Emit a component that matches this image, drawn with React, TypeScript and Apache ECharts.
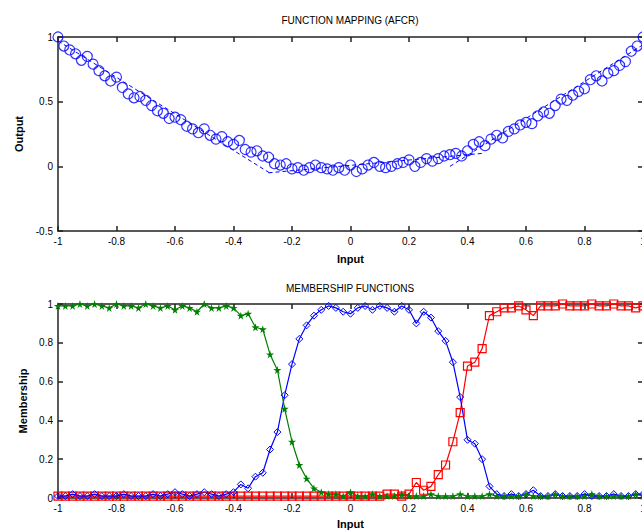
import React, { useEffect, useRef } from "react";
import * as echarts from "echarts";

// ---------- Top plot: function mapping (AFCR) ----------
const mapX = [
  -1.0, -0.98, -0.96, -0.94, -0.92, -0.9, -0.88, -0.86, -0.84, -0.82, -0.8, -0.78, -0.76, -0.74, -0.72, -0.7, -0.68,
  -0.66, -0.64, -0.62, -0.6, -0.58, -0.56, -0.54, -0.52, -0.5, -0.48, -0.46, -0.44, -0.42, -0.4, -0.38, -0.36, -0.34,
  -0.32, -0.3, -0.28, -0.26, -0.24, -0.22, -0.2, -0.18, -0.16, -0.14, -0.12, -0.1, -0.08, -0.06, -0.04, -0.02, 0.0,
  0.02, 0.04, 0.06, 0.08, 0.1, 0.12, 0.14, 0.16, 0.18, 0.2, 0.22, 0.24, 0.26, 0.28, 0.3, 0.32, 0.34, 0.36, 0.38, 0.4,
  0.42, 0.44, 0.46, 0.48, 0.5, 0.52, 0.54, 0.56, 0.58, 0.6, 0.62, 0.64, 0.66, 0.68, 0.7, 0.72, 0.74, 0.76, 0.78, 0.8,
  0.82, 0.84, 0.86, 0.88, 0.9, 0.92, 0.94, 0.96, 0.98, 1.0,
];
const mapY = [
  1.0, 0.93, 0.9, 0.87, 0.82, 0.85, 0.79, 0.74, 0.7, 0.66, 0.69, 0.61, 0.56, 0.53, 0.54, 0.51, 0.47,
  0.43, 0.41, 0.37, 0.38, 0.36, 0.31, 0.29, 0.26, 0.29, 0.24, 0.21, 0.23, 0.19, 0.17, 0.2, 0.13, 0.11,
  0.12, 0.08, 0.07, 0.02, 0.01, 0.02, -0.02, -0.01, -0.03, -0.01, 0.01, -0.01, -0.02, -0.03, -0.01, -0.03, 0.01,
  -0.04, -0.02, 0.01, 0.03, 0.0, -0.01, 0.0, 0.02, 0.03, 0.05, 0.0, 0.03, 0.06, 0.04, 0.06, 0.08, 0.09, 0.1, 0.08, 0.12,
  0.17, 0.19, 0.16, 0.21, 0.24, 0.22, 0.27, 0.29, 0.32, 0.34, 0.33, 0.39, 0.42, 0.41, 0.47, 0.52, 0.51, 0.55, 0.58, 0.6,
  0.67, 0.7, 0.66, 0.72, 0.74, 0.78, 0.81, 0.89, 0.93, 1.0,
];
// AFCR rule lines (piecewise model)
const ruleLine1 = [[-1.0, 0.97], [-0.27, -0.06]];
const ruleLine2 = [[-0.28, -0.05], [0.45, 0.1]];
const ruleLine3 = [[0.34, 0.0], [1.0, 0.94]];

// ---------- Bottom plot: membership functions ----------
const memX = [
  -1.0, -0.975, -0.95, -0.925, -0.9, -0.875, -0.85, -0.825, -0.8, -0.775, -0.75, -0.725, -0.7, -0.675, -0.65, -0.625,
  -0.6, -0.575, -0.55, -0.525, -0.5, -0.475, -0.45, -0.425, -0.4, -0.375, -0.35, -0.325, -0.3, -0.275, -0.25, -0.225,
  -0.2, -0.175, -0.15, -0.125, -0.1, -0.075, -0.05, -0.025, 0.0, 0.025, 0.05, 0.075, 0.1, 0.125, 0.15, 0.175, 0.2,
  0.225, 0.25, 0.275, 0.3, 0.325, 0.35, 0.375, 0.4, 0.425, 0.45, 0.475, 0.5, 0.525, 0.55, 0.575, 0.6, 0.625, 0.65,
  0.675, 0.7, 0.725, 0.75, 0.775, 0.8, 0.825, 0.85, 0.875, 0.9, 0.925, 0.95, 0.975, 1.0,
];
const lowMF = [
  0.99, 0.99, 0.99, 1.0, 0.99, 1.0, 0.99, 0.98, 1.0, 0.99, 0.99, 0.98, 1.0, 0.99, 0.98, 0.99,
  0.97, 0.99, 0.98, 0.96, 1.0, 0.98, 0.98, 0.99, 0.98, 0.94, 0.95, 0.88, 0.87, 0.74, 0.66, 0.46,
  0.29, 0.17, 0.1, 0.05, 0.03, 0.02, 0.02, 0.01, 0.03, 0.01, 0.01, 0.02, 0.01, 0.01, 0.01, 0.02, 0.01,
  0.01, 0.01, 0.02, 0.01, 0.01, 0.01, 0.02, 0.01, 0.01, 0.01, 0.02, 0.01, 0.01, 0.01, 0.01, 0.02, 0.01, 0.01,
  0.01, 0.02, 0.01, 0.01, 0.01, 0.01, 0.02, 0.01, 0.01, 0.01, 0.01, 0.01, 0.02, 0.01,
];
const midMF = [
  0.01, 0.01, 0.02, 0.01, 0.01, 0.02, 0.01, 0.01, 0.01, 0.02, 0.01, 0.01, 0.01, 0.02, 0.01, 0.02,
  0.03, 0.02, 0.01, 0.02, 0.03, 0.02, 0.01, 0.02, 0.03, 0.07, 0.05, 0.11, 0.13, 0.25, 0.34, 0.53,
  0.69, 0.82, 0.89, 0.94, 0.97, 0.99, 0.98, 0.96, 0.95, 0.98, 0.99, 0.97, 0.99, 0.98, 0.96, 0.99, 0.97,
  0.9, 0.96, 0.93, 0.86, 0.81, 0.7, 0.52, 0.3, 0.28, 0.2, 0.06, 0.02, 0.01, 0.02, 0.01, 0.02, 0.04, 0.01,
  0.01, 0.02, 0.01, 0.01, 0.01, 0.02, 0.01, 0.01, 0.01, 0.02, 0.01, 0.01, 0.02, 0.02,
];
const highMF = [
  0.01, 0.01, 0.01, 0.01, 0.01, 0.01, 0.01, 0.01, 0.01, 0.01, 0.01, 0.01, 0.01, 0.01, 0.01, 0.01,
  0.01, 0.01, 0.01, 0.01, 0.01, 0.01, 0.01, 0.01, 0.01, 0.01, 0.01, 0.01, 0.01, 0.01, 0.01, 0.01,
  0.01, 0.01, 0.01, 0.01, 0.01, 0.01, 0.01, 0.01, 0.01, 0.01, 0.01, 0.01, 0.01, 0.02, 0.02, 0.01, 0.02,
  0.08, 0.04, 0.06, 0.12, 0.17, 0.29, 0.44, 0.68, 0.7, 0.77, 0.94, 0.96, 0.98, 0.98, 0.99, 0.97, 0.94, 0.99,
  0.99, 0.99, 1.0, 0.99, 0.99, 0.99, 1.0, 0.99, 0.99, 1.0, 0.99, 0.99, 0.98, 0.99,
];

const xTicks = { min: -1, max: 1, interval: 0.2 };
const topYTicks = { min: -0.5, max: 1, interval: 0.5 };
const botYTicks = { min: 0, max: 1, interval: 0.2 };

const zip = (xs: number[], ys: number[]) => xs.map((x, i) => [x, ys[i]]);

const FONT = "Liberation Sans, Arial, sans-serif";
const AXIS = "#222";
const BLUE = "#0000ff";
const GREEN = "#008000";
const RED = "#ff0000";
const STAR =
  "path://M50,0 L61,35 L98,35 L68,57 L79,91 L50,70 L21,91 L32,57 L2,35 L39,35 Z";

function mainAxis(extra: any) {
  return {
    type: "value",
    axisLine: { show: true, onZero: false, lineStyle: { color: AXIS, width: 1.5 } },
    axisTick: { show: true, inside: true, length: 5, lineStyle: { color: AXIS, width: 1.5 } },
    axisLabel: { color: "#000", fontSize: 10, fontFamily: FONT, margin: 5 },
    splitLine: { show: false },
    nameTextStyle: { color: "#000", fontSize: 11, fontWeight: "bold", fontFamily: FONT },
    ...extra,
  };
}
function boxAxis(extra: any) {
  return {
    type: "value",
    axisLine: { show: true, onZero: false, lineStyle: { color: AXIS, width: 1.5 } },
    axisTick: { show: true, inside: true, length: 5, lineStyle: { color: AXIS, width: 1.5 } },
    axisLabel: { show: false },
    splitLine: { show: false },
    ...extra,
  };
}

export default function App() {
  const ref = useRef<HTMLDivElement>(null);
  useEffect(() => {
    if (!ref.current) return;
    const chart = echarts.init(ref.current, undefined, { renderer: "svg" });
    const dashed = { color: BLUE, width: 1, type: [4, 3] as any };
    chart.setOption({
      animation: false,
      backgroundColor: "#fff",
      grid: [
        { left: 58, top: 37, width: 585, height: 194, outerBoundsMode: "none", containLabel: false },
        { left: 58, top: 304, width: 585, height: 194, outerBoundsMode: "none", containLabel: false },
      ],
      xAxis: [
        mainAxis({ gridIndex: 0, ...xTicks, name: "Input", nameLocation: "middle", nameGap: 22 }),
        mainAxis({ gridIndex: 1, ...xTicks, name: "Input", nameLocation: "middle", nameGap: 20 }),
        boxAxis({ gridIndex: 0, position: "top", ...xTicks }),
        boxAxis({ gridIndex: 1, position: "top", ...xTicks }),
      ],
      yAxis: [
        mainAxis({ gridIndex: 0, ...topYTicks, name: "Output", nameLocation: "middle", nameGap: 32 }),
        mainAxis({ gridIndex: 1, ...botYTicks, name: "Membership", nameLocation: "middle", nameGap: 30 }),
        boxAxis({ gridIndex: 0, position: "right", ...topYTicks }),
        boxAxis({ gridIndex: 1, position: "right", ...botYTicks }),
      ],
      graphic: [
        {
          type: "text",
          x: 350,
          y: 20,
          style: {
            text: "FUNCTION MAPPING (AFCR)",
            align: "center",
            verticalAlign: "middle",
            fill: "#000",
            font: `10px ${FONT}`,
          },
        },
        {
          type: "text",
          x: 350,
          y: 288,
          style: {
            text: "MEMBERSHIP FUNCTIONS",
            align: "center",
            verticalAlign: "middle",
            fill: "#000",
            font: `10px ${FONT}`,
          },
        },
      ],
      series: [
        {
          type: "scatter",
          xAxisIndex: 0,
          yAxisIndex: 0,
          symbol: "circle",
          symbolSize: 10,
          itemStyle: { color: "transparent", borderColor: BLUE, borderWidth: 1.2 },
          data: zip(mapX, mapY),
        },
        ...[ruleLine1, ruleLine2, ruleLine3].map((seg) => ({
          type: "line",
          xAxisIndex: 0,
          yAxisIndex: 0,
          showSymbol: false,
          symbol: "none",
          lineStyle: dashed,
          data: seg,
        })),
        {
          type: "line",
          xAxisIndex: 1,
          yAxisIndex: 1,
          symbol: "rect",
          symbolSize: 8,
          lineStyle: { color: RED, width: 1.2 },
          itemStyle: { color: "transparent", borderColor: RED, borderWidth: 1.2 },
          data: zip(memX, highMF),
        },
        {
          type: "line",
          xAxisIndex: 1,
          yAxisIndex: 1,
          symbol: "diamond",
          symbolSize: 7,
          lineStyle: { color: BLUE, width: 1.2 },
          itemStyle: { color: "transparent", borderColor: BLUE, borderWidth: 1 },
          data: zip(memX, midMF),
        },
        {
          type: "line",
          xAxisIndex: 1,
          yAxisIndex: 1,
          symbol: STAR,
          symbolSize: 8,
          lineStyle: { color: GREEN, width: 1.2 },
          itemStyle: { color: GREEN, borderColor: GREEN, borderWidth: 0 },
          data: zip(memX, lowMF),
        },
      ],
    });
    return () => chart.dispose();
  }, []);
  return (
    <div
      ref={ref}
      style={{ position: "fixed", left: 0, top: 0, width: 642, height: 531, background: "#fff" }}
    />
  );
}
